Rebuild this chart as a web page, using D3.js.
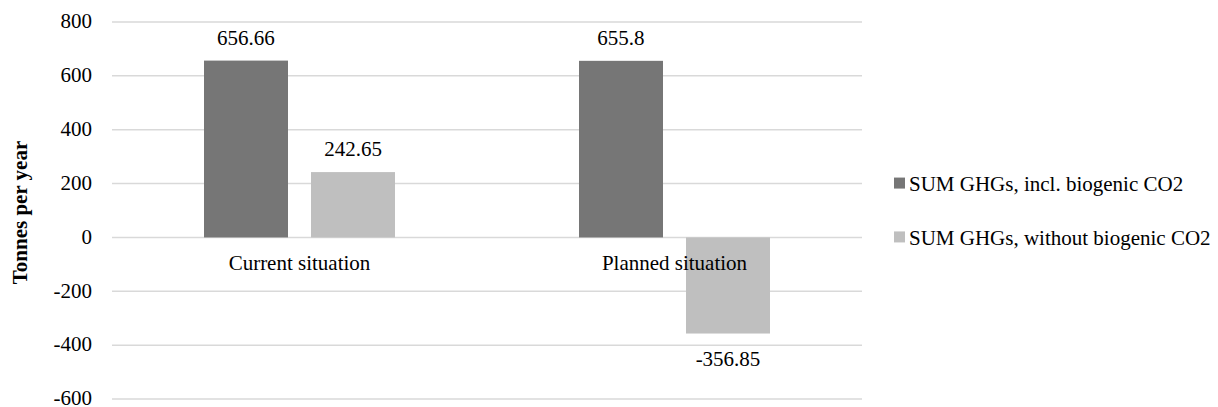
<!DOCTYPE html>
<html>
<head>
<meta charset="utf-8">
<script src="https://cdn.jsdelivr.net/npm/d3@7"></script>
<style>
  html, body { margin: 0; padding: 0; background: #fff; }
  svg text { font-family: "Liberation Serif", "Times New Roman", serif; fill: #000; }
</style>
</head>
<body>
<svg id="chart" width="1218" height="407"></svg>
<script>
// Greenhouse gas totals per scenario (tonnes per year)
const categories = ["Current situation", "Planned situation"];
const seriesNames = ["SUM GHGs, incl. biogenic CO2", "SUM GHGs, without biogenic CO2"];
const inclBiogenic = [656.66, 655.8];
const withoutBiogenic = [242.65, -356.85];
const valueLabels = [["656.66", "242.65"], ["655.8", "-356.85"]];
const yTicks = [-600, -400, -200, 0, 200, 400, 600, 800];
const seriesColors = ["#767676", "#bfbfbf"];

const svg = d3.select("#chart");
const plot = { left: 112, right: 862, top: 22, bottom: 399 };
const fontSize = 21;

const y = d3.scaleLinear().domain([-600, 800]).range([plot.bottom, plot.top]);
const x0 = d3.scaleBand().domain(categories).range([plot.left, plot.right]);
const x1 = d3.scaleBand().domain(seriesNames).range([92, 283]).paddingInner(0.215);

// horizontal gridlines
svg.append("g").selectAll("line").data(yTicks).join("line")
  .attr("x1", plot.left).attr("x2", plot.right)
  .attr("y1", d => y(d)).attr("y2", d => y(d))
  .attr("stroke", "#d9d9d9").attr("stroke-width", 1.5);

// y tick labels
svg.append("g").selectAll("text").data(yTicks).join("text")
  .attr("x", 92).attr("y", d => y(d)).attr("dy", "0.3em")
  .attr("text-anchor", "end").attr("font-size", fontSize)
  .text(d => d);

// y axis title
svg.append("text")
  .attr("transform", `translate(27, ${(plot.top + plot.bottom) / 2 + 2}) rotate(-90)`)
  .attr("text-anchor", "middle").attr("font-size", fontSize).attr("font-weight", "bold")
  .text("Tonnes per year");

const rows = categories.map((c, i) => ({
  cat: c,
  vals: [inclBiogenic[i], withoutBiogenic[i]].map((v, j) => ({ s: seriesNames[j], v, j, label: valueLabels[i][j] }))
}));

const groups = svg.append("g").selectAll("g").data(rows).join("g")
  .attr("transform", d => `translate(${x0(d.cat)},0)`);

groups.selectAll("rect").data(d => d.vals).join("rect")
  .attr("x", d => x1(d.s))
  .attr("width", x1.bandwidth())
  .attr("y", d => y(Math.max(0, d.v)))
  .attr("height", d => Math.abs(y(d.v) - y(0)))
  .attr("fill", d => seriesColors[d.j]);

// category labels below the zero line
svg.append("g").selectAll("text").data(categories).join("text")
  .attr("x", d => x0(d) + x0.bandwidth() / 2)
  .attr("y", y(0) + 33)
  .attr("text-anchor", "middle").attr("font-size", fontSize)
  .text(d => d);

// value labels
groups.selectAll("text.val").data(d => d.vals).join("text")
  .attr("class", "val")
  .attr("x", d => x1(d.s) + x1.bandwidth() / 2)
  .attr("y", d => d.v >= 0 ? y(d.v) - 16 : y(d.v) + 32)
  .attr("text-anchor", "middle").attr("font-size", fontSize)
  .text(d => d.label);

// legend
const legend = svg.append("g").selectAll("g").data(seriesNames).join("g")
  .attr("transform", (d, i) => `translate(894, ${y(200) + i * (y(0) - y(200))})`);
legend.append("rect")
  .attr("x", 0).attr("y", -6).attr("width", 11).attr("height", 11)
  .attr("fill", (d, i) => seriesColors[i]);
legend.append("text")
  .attr("x", 15).attr("y", 0).attr("dy", "0.35em").attr("font-size", fontSize)
  .text(d => d);
</script>
</body>
</html>
